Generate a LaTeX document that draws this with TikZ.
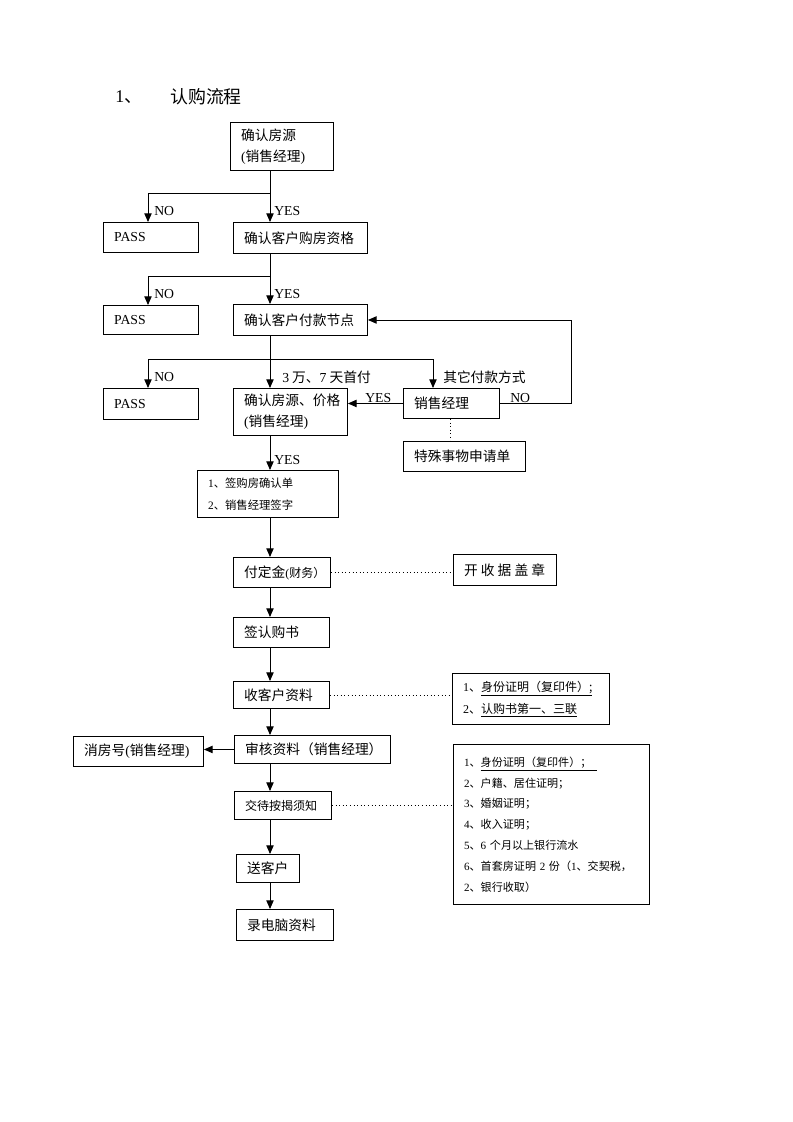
\documentclass[tikz,border=0pt]{standalone}
\usepackage{fontspec}
\setmainfont{Liberation Serif}
\newfontfamily\cjk{Noto Sans CJK SC}
\usetikzlibrary{arrows.meta}
\newcommand\latn[1]{{\rmfamily #1}}
\newcommand\fmain{\cjk\fontsize{10.3}{15.75}\selectfont}
\newcommand\fsmall{\cjk\fontsize{8.5}{16.5}\selectfont}
\newcommand\fmid{\cjk\fontsize{9}{16.5}\selectfont}
\newcommand\flist{\cjk\fontsize{8.3}{15.6}\selectfont}
\newcommand\ftitle{\cjk\fontsize{13.4}{16}\selectfont}
\tikzset{
 box/.style={draw, line width=0.7pt, inner xsep=8pt, inner ysep=0pt, align=left, anchor=north west, font=\fmain},
 arr/.style={line width=0.7pt, -{Triangle[length=6.5pt,width=5.5pt]}},
 ln/.style={line width=0.7pt},
 dots/.style={line width=0.7pt, dotted},
 lbl/.style={inner sep=0pt, anchor=west, font=\fmain},
}
\begin{document}
\begin{tikzpicture}[x=0.75pt,y=-0.75pt]
\fill[white] (0,0) rectangle (793,1122);
\useasboundingbox (0,0) rectangle (793,1122);

% title
\node[lbl, font=\ftitle] (t1) at (115,97) {\latn{1}、};
\node[lbl, font=\ftitle] (t2) at (170,97) {认购流程};

% boxes
\node[box, text width=61.25pt, minimum height=36pt] (b1) at (230,122) {确认房源\\\latn{(}销售经理\latn{)}};
\node[box, text width=55.25pt, minimum height=22.5pt] (p1) at (103,222) {\latn{PASS}};
\node[box, text width=84.5pt, minimum height=23.25pt] (b2) at (233,222) {确认客户购房资格};
\node[box, text width=55.25pt, minimum height=22pt] (p2) at (103,305) {\latn{PASS}};
\node[box, text width=84.5pt, minimum height=23.25pt] (b3) at (233,304) {确认客户付款节点};
\node[box, text width=55.25pt, minimum height=23.25pt] (p3) at (103,388) {\latn{PASS}};
\node[box, text width=69.5pt, minimum height=35.25pt] (b4) at (233,388) {确认房源、价格\\\latn{(}销售经理\latn{)}};
\node[box, text width=56pt, minimum height=22.5pt] (sm) at (403,388) {销售经理};
\node[box, text width=75.5pt, minimum height=22.5pt] (ts) at (403,441) {特殊事物申请单};
\node[box, text width=89.75pt, minimum height=35.25pt, font=\fsmall] (b5) at (197,470) {\latn{1}、签购房确认单\\\latn{2}、销售经理签字};
\node[box, text width=56.75pt, minimum height=22.5pt] (b6) at (233,557) {付定金{\fontsize{9}{10}\selectfont\latn{(}财务）}};
\node[box, text width=61.25pt, minimum height=23.25pt] (kr) at (453,554) {\mbox{开\hspace{2.3pt}收\hspace{2.3pt}据\hspace{2.3pt}盖\hspace{2.3pt}章}};
\node[box, text width=56pt, minimum height=22.5pt] (b7) at (233,617) {签认购书};
\node[box, text width=56pt, minimum height=20.25pt] (b8) at (233,681) {收客户资料};
\node[box, text width=101.75pt, minimum height=38.25pt, font=\fmid] (b9) at (452,673) {\latn{1}、\underline{身份证明（复印件）;}\\\latn{2}、\underline{认购书第一、三联}};
\node[box, text width=101pt, minimum height=21pt] (b10) at (234,735) {审核资料（销售经理）};
\node[box, text width=81.5pt, minimum height=22.5pt] (xf) at (73,736) {消房号\latn{(}销售经理\latn{)}};
\node[box, text width=56.75pt, minimum height=21pt, font=\fmid] (b11) at (234,791) {交待按揭须知};
\node[box, text width=131pt, minimum height=120pt, font=\flist] (b12) at (453,744) {\latn{1}、\underline{身份证明（复印件）；\hspace{4pt}}\\\latn{2}、户籍、居住证明；\\\latn{3}、婚姻证明；\\\latn{4}、收入证明；\\\latn{5}、\latn{6} 个月以上银行流水\\\latn{6}、首套房证明 \latn{2} 份（\latn{1}、交契税，\\\latn{2}、银行收取）};
\node[box, text width=31.25pt, minimum height=21pt] (b13) at (236,854) {送客户};
\node[box, text width=56.75pt, minimum height=23.25pt] (b14) at (236,909) {录电脑资料};

% helper coordinates
\coordinate (spine) at (270,0);
\coordinate (nox) at (148,0);
\coordinate (othx) at (433,0);
\coordinate (loopx) at (571,0);
\coordinate (dotx) at (450,0);
\coordinate (j1) at (270,193);
\coordinate (j2) at (270,276);
\coordinate (j3) at (270,359);

% connectors
\draw[arr] (b1.south -| spine) -- (b2.north -| spine);
\draw[arr] (j1) -| (p1.north -| nox);
\draw[arr] (b2.south -| spine) -- (b3.north -| spine);
\draw[arr] (j2) -| (p2.north -| nox);
\draw[arr] (b3.south -| spine) -- (b4.north -| spine);
\draw[ln] (j3 -| nox) -- (j3 -| othx);
\draw[arr] (j3 -| nox) -- (p3.north -| nox);
\draw[arr] (j3 -| othx) -- (sm.north -| othx);
\draw[arr] (sm.east) -- (sm.east -| loopx) |- (b3.east);
\draw[arr] (sm.west) -- (sm.west -| b4.east);
\draw[dots] (sm.south -| dotx) -- (ts.north -| dotx);
\draw[arr] (b4.south -| spine) -- (b5.north -| spine);
\draw[arr] (b5.south -| spine) -- (b6.north -| spine);
\draw[dots] (b6.east) -- (b6.east -| kr.west);
\draw[arr] (b6.south -| spine) -- (b7.north -| spine);
\draw[arr] (b7.south -| spine) -- (b8.north -| spine);
\draw[dots] (b8.east) -- (b8.east -| b9.west);
\draw[arr] (b8.south -| spine) -- (b10.north -| spine);
\draw[arr] (b10.west) -- (b10.west -| xf.east);
\draw[arr] (b10.south -| spine) -- (b11.north -| spine);
\draw[dots] (b11.east) -- (b11.east -| b12.west);
\draw[arr] (b11.south -| spine) -- (b13.north -| spine);
\draw[arr] (b13.south -| spine) -- (b14.north -| spine);

% labels
\node[lbl] (n1) at (154,211) {\latn{NO}};
\node[lbl] (y1) at (274,211) {\latn{YES}};
\node[lbl] (n2) at (154,294) {\latn{NO}};
\node[lbl] (y2) at (274,294) {\latn{YES}};
\node[lbl] (n3) at (154,377) {\latn{NO}};
\node[lbl] (c3) at (282,377) {\latn{3} 万、\latn{7} 天首付};
\node[lbl] (c4) at (443,377) {其它付款方式};
\node[lbl] (y3) at (365,398) {\latn{YES}};
\node[lbl] (n4) at (510,398) {\latn{NO}};
\node[lbl] (y4) at (274,460) {\latn{YES}};
\end{tikzpicture}
\end{document}
